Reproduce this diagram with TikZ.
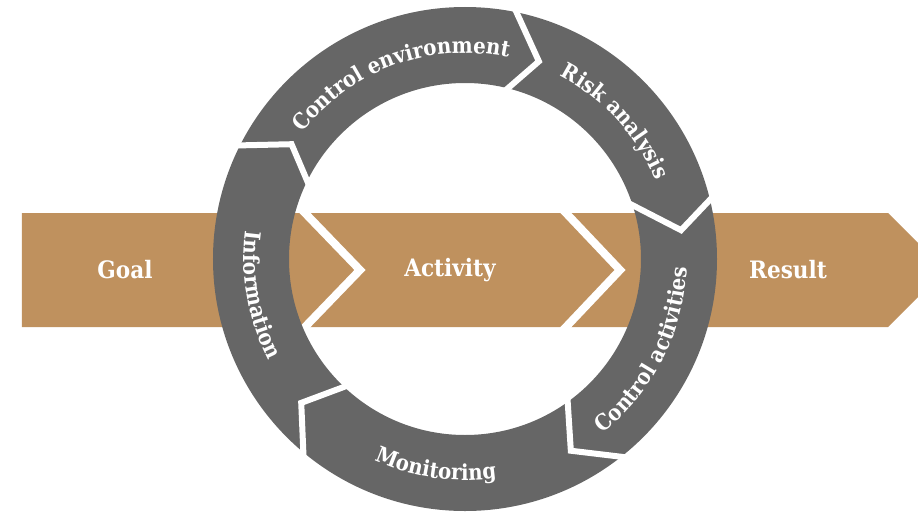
\documentclass[tikz,border=0pt]{standalone}
\usepackage{fontspec}
\newfontfamily\cyclefont{DejaVu Serif Condensed}
\usetikzlibrary{calc, decorations.text}
\definecolor{ringgray}{RGB}{102,102,102}
\definecolor{bandtan}{RGB}{191,145,94}
\newcommand{\ringfont}{\cyclefont\bfseries\fontsize{22}{22}\selectfont}
\tikzset{
    x=1pt, y=1pt, % one unit is one pixel of the picture
    band label/.style={text=white, font=\cyclefont\bfseries\fontsize{24}{24}\selectfont}, % labels on the flat arrow
    band gap/.style={white, line width=8pt, line join=miter}, % white cut between two flat arrows
    ring gap/.style={white, line width=6pt, line join=miter}, % white cut between two ring arrows
    ring label/.style={decorate, decoration={text along path, text align=center, text color=white}},
}
% text on an arc: start angle, end angle, radius, text
\newcommand{\ringlabel}[4]{%
  \path[ring label, decoration={text={|\ringfont|#4}}] (#1:#3) arc[start angle=#1, end angle=#2, radius=#3];}

\begin{document}
\begin{tikzpicture}
    \clip (-465,-253) rectangle (453,259);
    % flat arrow
    \fill[bandtan] (-443,46) -- (423,46) -- (480,-11) -- (423,-68) -- (-443,-68) -- cycle;
    \coordinate (tip1) at (-105,-11);
    \coordinate (tip2) at (155,-11);
    \draw[band gap] ($(tip1)!1.2!(-160,46)$) -- (tip1) -- ($(tip1)!1.2!(-160,-68)$);
    \draw[band gap] ($(tip2)!1.2!(101,46)$) -- (tip2) -- ($(tip2)!1.2!(101,-68)$);
    \node[band label] (goal) at (-340,-11) {Goal};
    \node[band label] (activity) at (-15,-11) {Activity};
    \node[band label] (result) at (323,-11) {Result};
    % ring of five arrows
    \fill[ringgray, even odd rule] (0,0) circle (252) (0,0) circle (176);
    \begin{scope}[even odd rule]
        \clip (0,0) circle (253) (0,0) circle (175);
        \foreach \bo/\tp/\rt/\bi in {153.2/146.5/208/153.7, 78.2/69.5/211/75.9,
                                   13.6/7.6/218/17.8, -51.7/-61.1/219/-54.3,
                                   230.1/221.3/218/226.6}
            \draw[ring gap] ($(\tp:\rt)!1.3!(\bo:252)$) -- (\tp:\rt) -- ($(\tp:\rt)!1.3!(\bi:176)$);
    \end{scope}
    \ringlabel{190}{30}{206}{Control environment}
    \ringlabel{122.5}{-37.5}{206}{Risk analysis}
    \ringlabel{-107}{53}{222}{Control activities}
    \ringlabel{-178}{-18}{221}{Monitoring}
    \ringlabel{110}{270}{221}{Information}
\end{tikzpicture}
\end{document}
